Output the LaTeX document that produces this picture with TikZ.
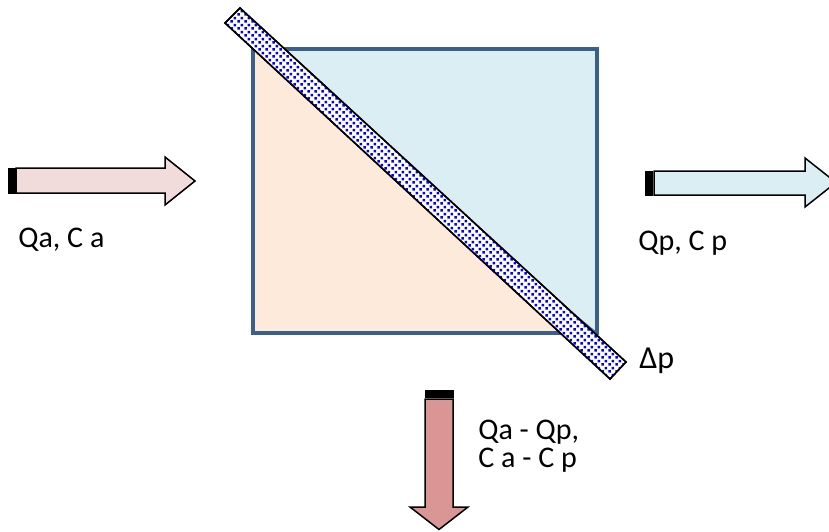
\documentclass[tikz,border=0pt]{standalone}
\usepackage{fontspec}
\setmainfont{Carlito}
\usetikzlibrary{patterns.meta}
\definecolor{frameblue}{HTML}{3A5F8B}
\definecolor{permcyan}{HTML}{DBEEF4}
\definecolor{feedpeach}{HTML}{FDEADA}
\definecolor{feedpink}{HTML}{F2DCDB}
\definecolor{rejrose}{HTML}{D99694}
\tikzdeclarepattern{name=memdots,type=uncolored,bounding box={(0pt,0pt) and (3.6pt,3.6pt)},tile size={(3.6pt,3.6pt)},
  code={\fill (0.25pt,0.25pt) rectangle (1.55pt,1.55pt); \fill (2.05pt,2.05pt) rectangle (3.35pt,3.35pt);}}
\begin{document}
\begin{tikzpicture}[x=0.5pt,y=-0.5pt,every node/.style={font=\fontsize{15}{14}\selectfont,inner sep=0pt},stream/.style={draw=black,line width=0.75pt,fill=#1},stripe/.style={draw=black,line width=0.4pt,fill=black}]
\useasboundingbox (0,0) rectangle (829,531);
% module halves
\fill[permcyan] (253,49) -- (597,49) -- (597,333) -- cycle;
\draw[frameblue,line width=0.5pt] (253,49) -- (597,333);
\fill[feedpeach] (253,49) -- (253,333) -- (560,333) -- cycle;
\draw[frameblue,line width=2.25pt] (253,49) rectangle (597,333);
% membrane
\draw[line width=0.75pt,fill=white] (240,8) -- (626,362) -- (610,379) -- (225,23) -- cycle;
\fill[pattern={memdots},pattern color=blue] (240,8) -- (626,362) -- (610,379) -- (225,23) -- cycle;
\draw[line width=0.75pt] (240,8) -- (626,362) -- (610,379) -- (225,23) -- cycle;
% streams
\draw[stripe] (8,168) rectangle (12.5,193);
\draw[stripe] (13.5,168) rectangle (15,193);
\draw[stream=feedpink] (16,168) -- (165,168) -- (165,157) -- (195,181) -- (165,205) -- (165,193) -- (16,193) -- cycle;
\draw[stripe] (645,171) rectangle (650,195);
\draw[stripe] (651,171) rectangle (652.5,195);
\draw[stream=permcyan] (654,171) -- (805,171) -- (805,158) -- (836,182.5) -- (805,207) -- (805,195) -- (654,195) -- cycle;
\draw[stripe] (425,390) rectangle (453,395);
\draw[stripe] (425,396) rectangle (453,397.5);
\draw[stream=rejrose] (425,399) -- (425,507) -- (410,507) -- (439,529.5) -- (468,507) -- (453,507) -- (453,399) -- cycle;
% labels
\node[anchor=base west] (feedlabel) at (18,247) {Qa, C a};
\node[anchor=base west] (permlabel) at (638,250) {Qp, C p};
\node[anchor=base west,font=\fontsize{16}{16}\selectfont] (dplabel) at (639,368) {Δp};
\node[anchor=north west,align=left] (rejlabel) at (478,420) {Qa - Qp,\\C a - C p};
\end{tikzpicture}
\end{document}
